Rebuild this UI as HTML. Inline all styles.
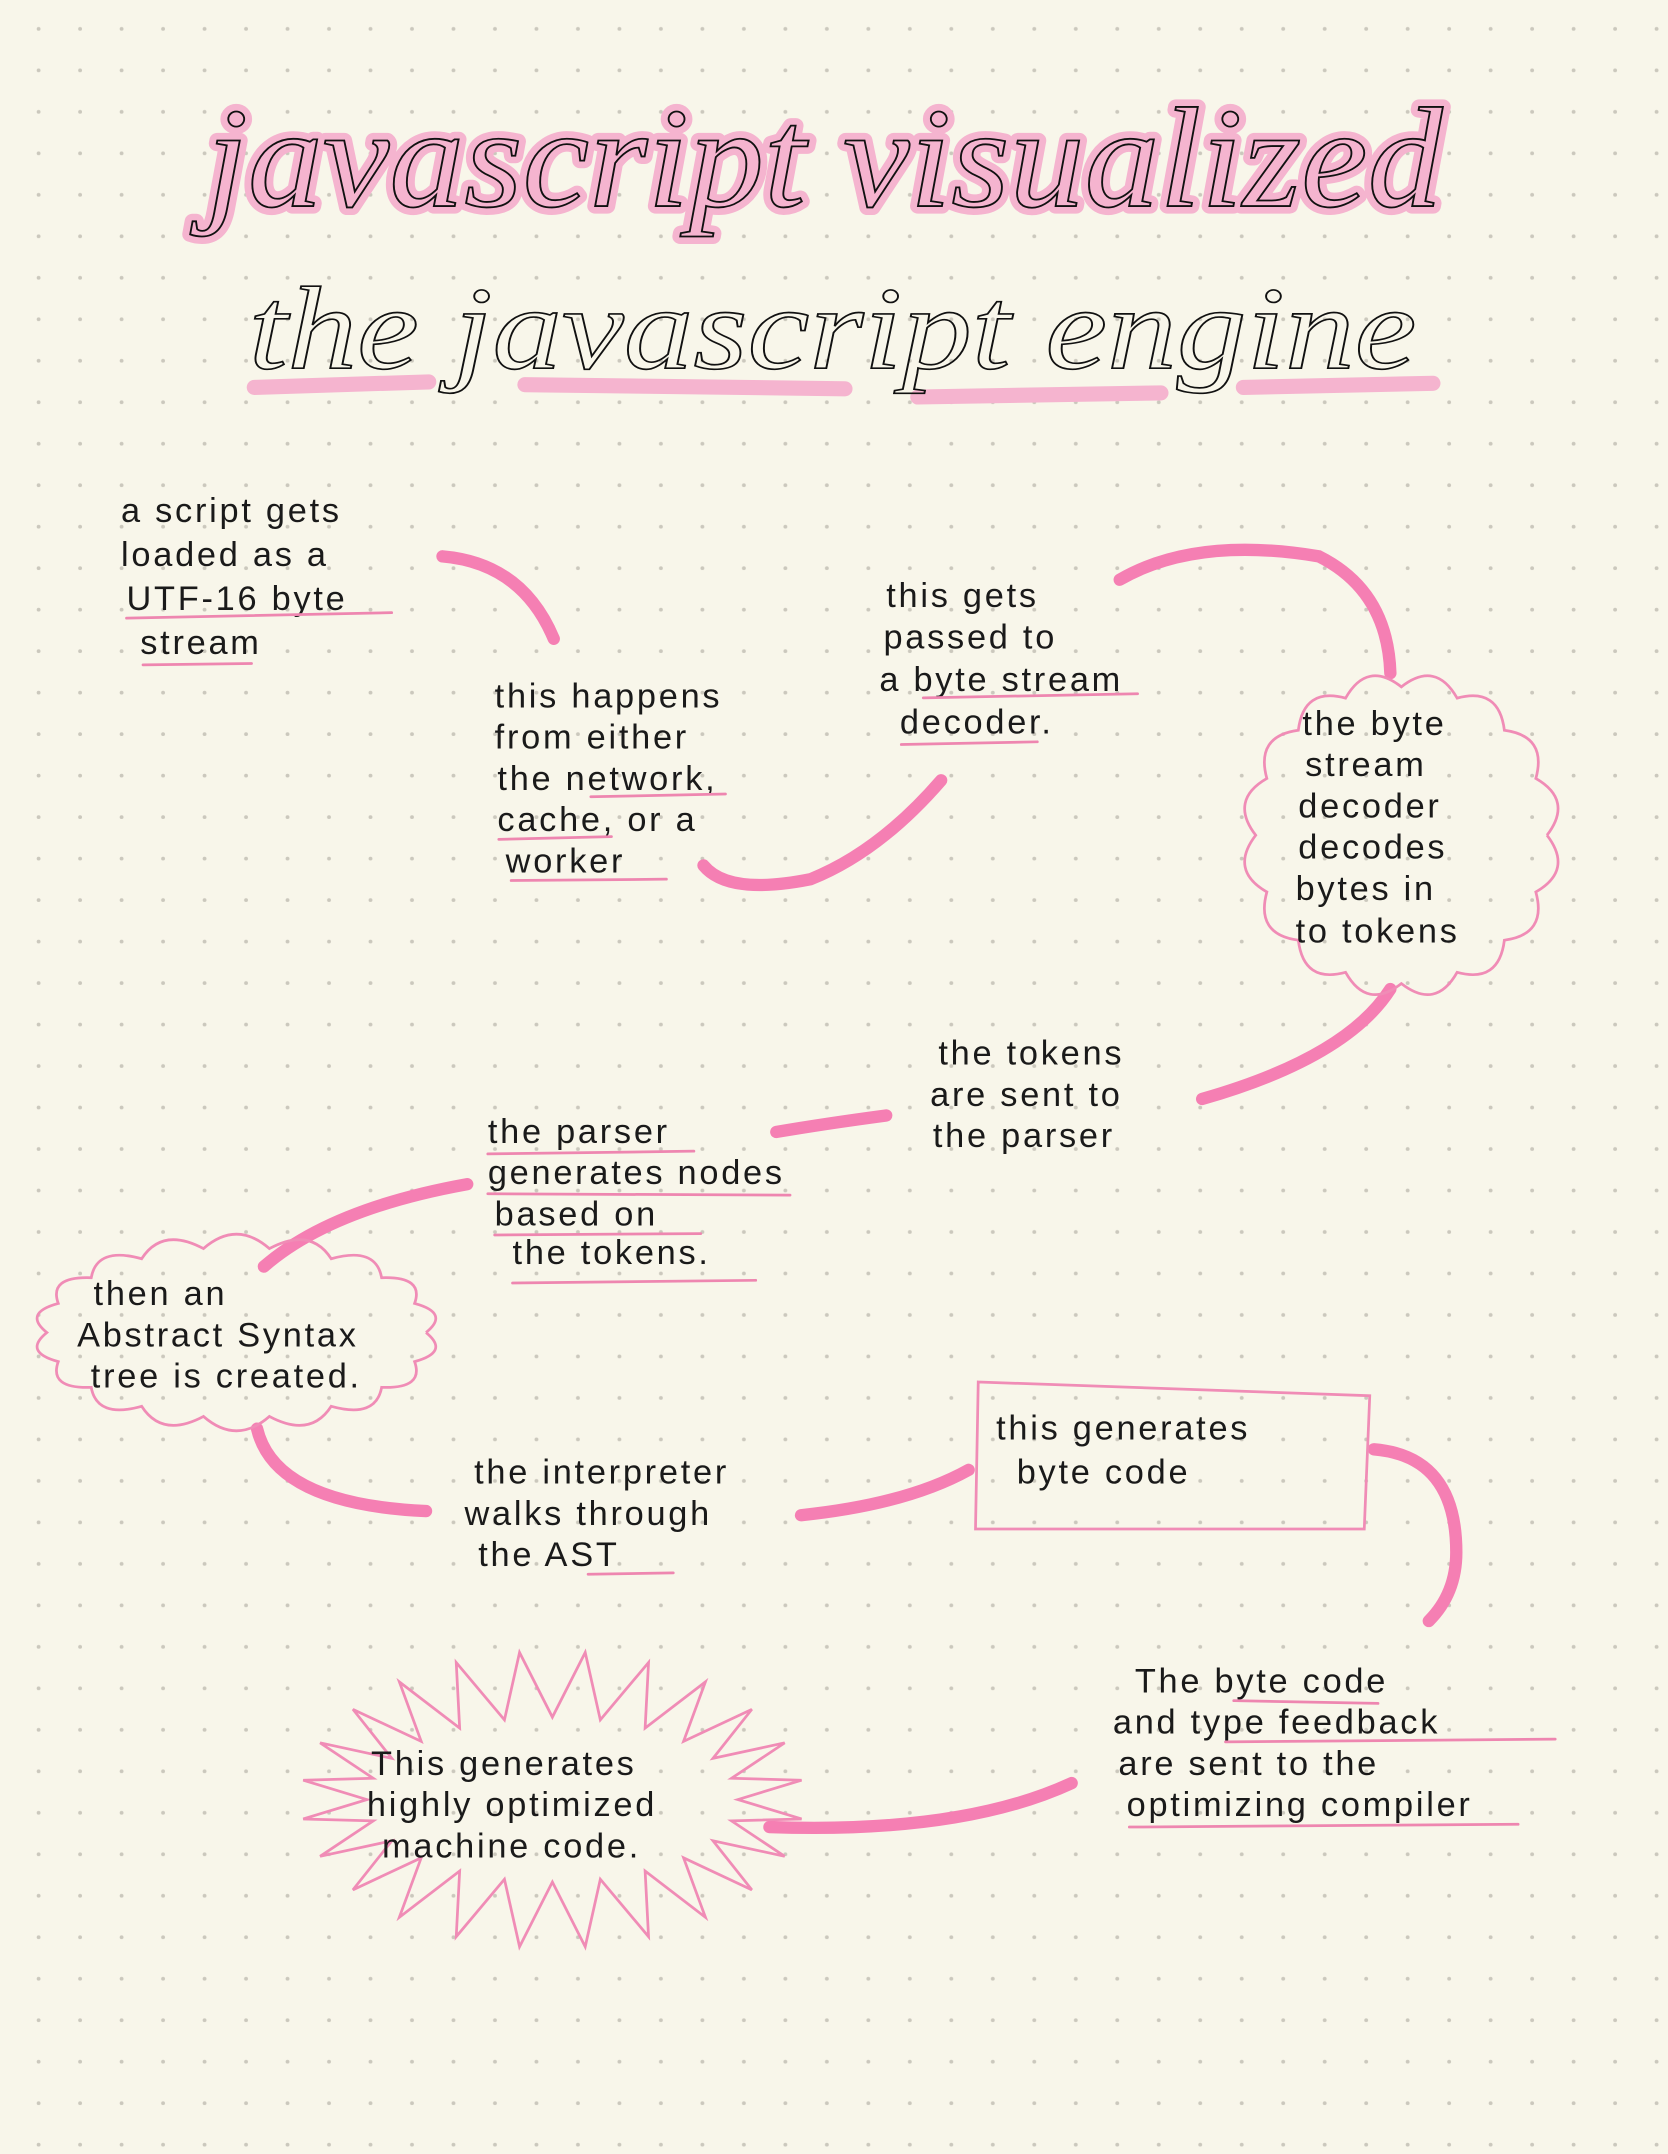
<!DOCTYPE html>
<html><head><meta charset="utf-8">
<style>
html,body{margin:0;padding:0;background:#f8f6ea;}
svg{display:block;}
.t{font-family:"Liberation Sans",sans-serif;font-size:25px;fill:#1a1a1a;font-weight:normal;letter-spacing:2px;}
.ul{stroke:#ee86b0;stroke-width:2;fill:none;stroke-linecap:round;}
.ar{stroke:#f57fb3;stroke-width:9;fill:none;stroke-linecap:round;}
.shape{stroke:#f08cb6;stroke-width:2;fill:none;}
</style></head>
<body>
<svg id="s" width="1668" height="2154" viewBox="0 0 1214 1568" xmlns="http://www.w3.org/2000/svg">
<defs>
<pattern id="dotp" x="13" y="6" width="30.2" height="30.2" patternUnits="userSpaceOnUse">
<circle cx="15" cy="15" r="1.4" fill="#cbc8bd"/>
</pattern>
</defs>
<rect x="0" y="0" width="1214" height="1568" fill="url(#dotp)"/>

<g>
<text x="600" y="150" text-anchor="middle" font-family="Liberation Serif,serif" font-style="italic" font-size="104" fill="none" stroke="#f5b4cf" stroke-width="11" stroke-linejoin="round" textLength="900" lengthAdjust="spacingAndGlyphs">javascript visualized</text>
<text x="600" y="150" text-anchor="middle" font-family="Liberation Serif,serif" font-style="italic" font-size="104" fill="none" stroke="#111" stroke-width="1.3" textLength="900" lengthAdjust="spacingAndGlyphs">javascript visualized</text>
</g>
<g>
<path d="M185 282 L312 278 M382 280 L615 283 M668 289 L845 286 M905 282 L1043 279" stroke="#f5b4cf" stroke-width="11" stroke-linecap="round" fill="none"/>
<text x="606" y="268" text-anchor="middle" font-family="Liberation Serif,serif" font-style="italic" font-size="86" fill="none" stroke="#111" stroke-width="1.2" textLength="850" lengthAdjust="spacingAndGlyphs">the javascript engine</text>
</g>

<g>
<path class="ar" d="M322 405 Q380 410 403 465"/>
<path class="ar" d="M512 630 Q530 652 590 640 Q640 620 685 568"/>
<path class="ar" d="M815 422 Q870 390 960 405 Q1010 430 1012 490"/>
<path class="ar" d="M1012 720 Q980 770 875 800"/>
<path class="ar" d="M645 812 Q600 818 565 824"/>
<path class="ar" d="M340 862 Q240 880 192 922"/>
<path class="ar" d="M187 1040 Q200 1095 310 1100"/>
<path class="ar" d="M583 1103 Q660 1095 705 1070"/>
<path class="ar" d="M1000 1055 Q1060 1060 1060 1130 Q1060 1160 1040 1180"/>
<path class="ar" d="M560 1330 Q700 1335 780 1298"/>
</g>

<g>
<path id="cloud1" class="shape"/>
<path id="cloud2" class="shape"/>
<path id="burst" class="shape"/>
<path class="shape" d="M712 1006 L997 1016 L993 1113 L710 1113 Z"/>
</g>

<g>
<text class="t" x="88" y="380">a script gets</text>
<text class="t" x="88" y="412">loaded as a</text>
<text class="t" x="92" y="444">UTF-16 byte</text>
<text class="t" x="102" y="476">stream</text>
<path class="ul" d="M92 450 L285 446 M104 484 L183 483"/>

<text class="t" x="360" y="515">this happens</text>
<text class="t" x="360" y="545">from either</text>
<text class="t" x="362" y="575">the network,</text>
<text class="t" x="362" y="605">cache, or a</text>
<text class="t" x="368" y="635">worker</text>
<path class="ul" d="M430 580 L528 578 M363 611 L445 609 M372 641 L485 640"/>

<text class="t" x="645" y="442">this gets</text>
<text class="t" x="643" y="472">passed to</text>
<text class="t" x="640" y="503">a byte stream</text>
<text class="t" x="655" y="534">decoder.</text>
<path class="ul" d="M672 508 L828 505 M656 542 L755 540"/>

<text class="t" x="948" y="535">the byte</text>
<text class="t" x="950" y="565">stream</text>
<text class="t" x="945" y="595">decoder</text>
<text class="t" x="945" y="625">decodes</text>
<text class="t" x="943" y="655">bytes in</text>
<text class="t" x="943" y="686">to tokens</text>

<text class="t" x="683" y="775">the tokens</text>
<text class="t" x="677" y="805">are sent to</text>
<text class="t" x="679" y="835">the parser</text>

<text class="t" x="355" y="832">the parser</text>
<text class="t" x="355" y="862">generates nodes</text>
<text class="t" x="360" y="892">based on</text>
<text class="t" x="373" y="920">the tokens.</text>
<path class="ul" d="M355 840 L505 838 M355 869 L575 870 M360 899 L510 898 M373 934 L550 932"/>

<text class="t" x="68" y="950">then an</text>
<text class="t" x="56" y="980">Abstract Syntax</text>
<text class="t" x="66" y="1010">tree is created.</text>

<text class="t" x="345" y="1080">the interpreter</text>
<text class="t" x="338" y="1110">walks through</text>
<text class="t" x="348" y="1140">the AST</text>
<path class="ul" d="M428 1146 L490 1145"/>

<text class="t" x="725" y="1048" font-size="27">this generates</text>
<text class="t" x="740" y="1080" font-size="27">byte code</text>

<text class="t" x="826" y="1232">The byte code</text>
<text class="t" x="810" y="1262">and type feedback</text>
<text class="t" x="814" y="1292">are sent to the</text>
<text class="t" x="820" y="1322">optimizing compiler</text>
<path class="ul" d="M898 1238 L1003 1240 M892 1268 L1132 1266 M822 1330 L1105 1328"/>

<text class="t" x="270" y="1292">This generates</text>
<text class="t" x="267" y="1322">highly optimized</text>
<text class="t" x="278" y="1352">machine code.</text>
</g>
</svg>
<script>
function cloud(cx,cy,rx,ry,n,b){var d='';for(var i=0;i<=n;i++){var a=i/n*Math.PI*2;var x=cx+rx*Math.cos(a),y=cy+ry*Math.sin(a);if(i==0)d+='M'+x.toFixed(1)+' '+y.toFixed(1);else{var am=(i-0.5)/n*Math.PI*2;var qx=cx+(rx+b)*Math.cos(am),qy=cy+(ry+b)*Math.sin(am);d+=' Q'+qx.toFixed(1)+' '+qy.toFixed(1)+' '+x.toFixed(1)+' '+y.toFixed(1);}}return d;}
function burst(cx,cy,rx,ry,n,b){var d='';for(var i=0;i<n;i++){var a=i/n*Math.PI*2,am=(i+0.5)/n*Math.PI*2;var x=cx+rx*Math.cos(a),y=cy+ry*Math.sin(a);var px=cx+(rx+b)*Math.cos(am),py=cy+(ry+b)*Math.sin(am);d+=(i?' L':'M')+x.toFixed(1)+' '+y.toFixed(1)+' L'+px.toFixed(1)+' '+py.toFixed(1);}return d+' Z';}
document.getElementById('cloud1').setAttribute('d',cloud(1020,608,106,108,16,22));
document.getElementById('cloud2').setAttribute('d',cloud(172,970,138,62,18,20));
document.getElementById('burst').setAttribute('d',burst(402,1310,135,60,24,48));
</script>
</body></html>
